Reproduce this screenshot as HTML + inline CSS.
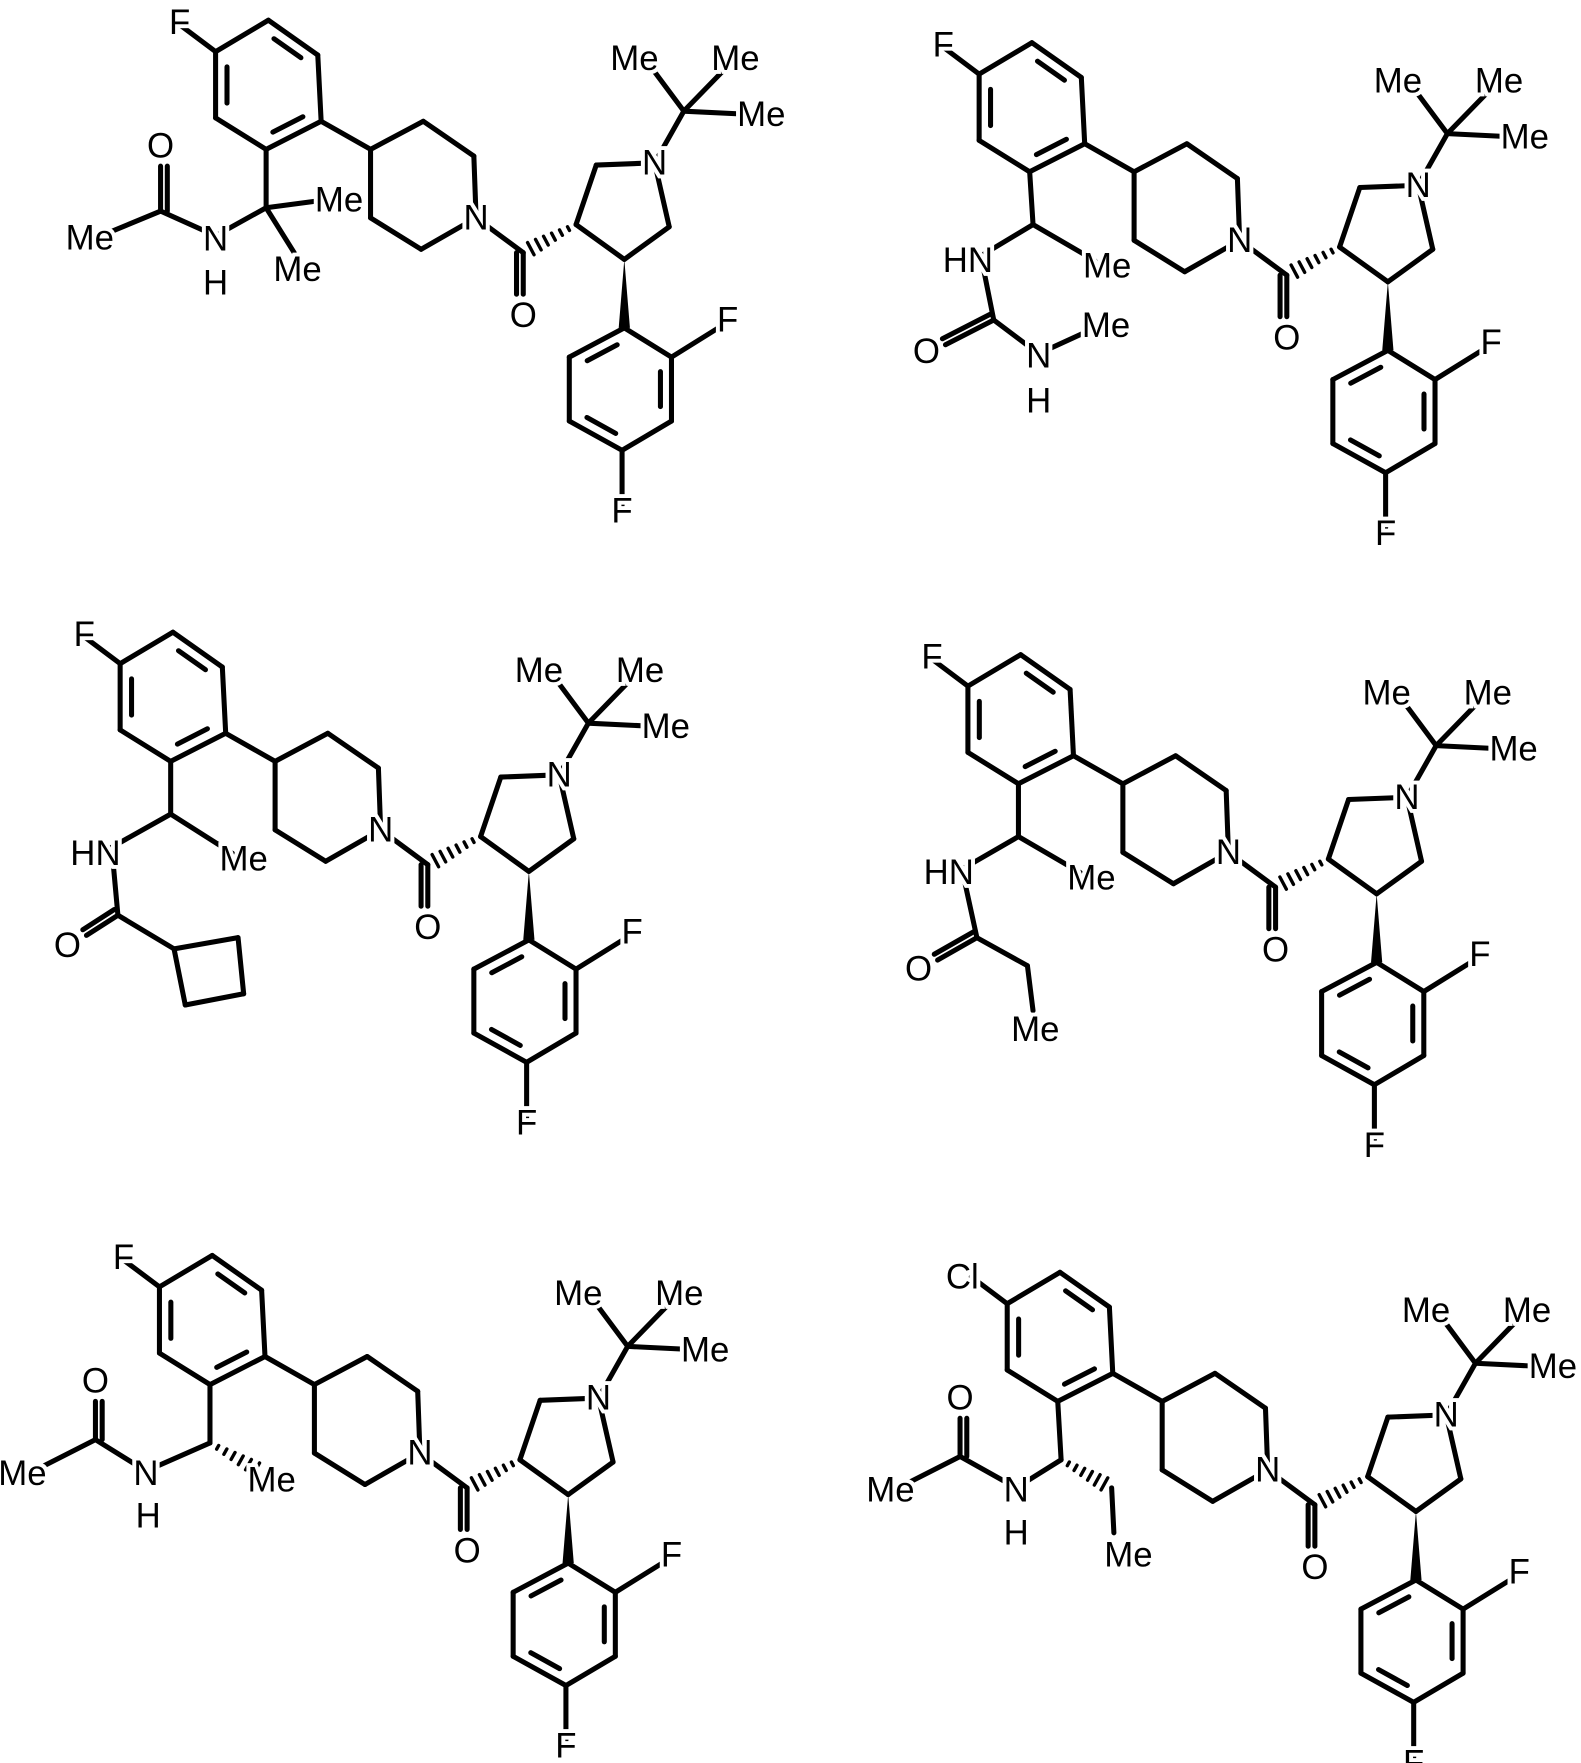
<!DOCTYPE html>
<html><head><meta charset="utf-8"><style>
html,body{margin:0;padding:0;background:#fff;}
svg{display:block}
text{font-family:"Liberation Sans",sans-serif;font-size:31px;fill:#000;stroke:#fff;stroke-width:7px;paint-order:stroke;text-anchor:middle;dominant-baseline:central}
</style></head><body>
<svg id="s" width="1581" height="1763" viewBox="0 0 1408 1570" preserveAspectRatio="none" xmlns="http://www.w3.org/2000/svg">
<g id="g" stroke="#000" stroke-width="4.5" fill="none" stroke-linecap="round"></g>
</svg>
<script>
var g=document.getElementById('g'),out=[];
var ox=0,oy=0;
function P(p){return [p[0]+ox,p[1]+oy];}
function L(a,b,w){a=P(a);b=P(b);out.push('<line x1="'+a[0]+'" y1="'+a[1]+'" x2="'+b[0]+'" y2="'+b[1]+'"'+(w?' stroke-width="'+w+'"':'')+'/>');}
function D(a,b){
 L(a,b);var dx=b[0]-a[0],dy=b[1]-a[1],l=Math.hypot(dx,dy),nx=-dy/l*6,ny=dx/l*6;L([a[0]+nx,a[1]+ny],[b[0]+nx,b[1]+ny]);}
function inner(a,b,c){
 var k=0.22;var a2=[a[0]+(c[0]-a[0])*k,a[1]+(c[1]-a[1])*k],b2=[b[0]+(c[0]-b[0])*k,b[1]+(c[1]-b[1])*k];
 var m=0.15;L([a2[0]+(b2[0]-a2[0])*m,a2[1]+(b2[1]-a2[1])*m],[b2[0]-(b2[0]-a2[0])*m,b2[1]-(b2[1]-a2[1])*m]);}
function ring(v,dbl){for(var i=0;i<v.length;i++)L(v[i],v[(i+1)%v.length]);
 if(dbl){var c=[0,0];v.forEach(function(p){c[0]+=p[0]/v.length;c[1]+=p[1]/v.length});dbl.forEach(function(i){inner(v[i],v[(i+1)%v.length],c)});}}
function hash(a,b){a=P(a);b=P(b);var dx=b[0]-a[0],dy=b[1]-a[1],l=Math.hypot(dx,dy),nx=-dy/l,ny=dx/l;
 for(var i=1;i<=6;i++){var t=i/7,w=1+6*t,x=a[0]+dx*t,y=a[1]+dy*t;out.push('<line x1="'+(x-nx*w)+'" y1="'+(y-ny*w)+'" x2="'+(x+nx*w)+'" y2="'+(y+ny*w)+'" stroke-width="3"/>');}}
function wedge(a,b){a=P(a);b=P(b);var dx=b[0]-a[0],dy=b[1]-a[1],l=Math.hypot(dx,dy),nx=-dy/l*5,ny=dx/l*5;
 out.push('<polygon fill="#000" stroke="none" points="'+a[0]+','+a[1]+' '+(b[0]+nx)+','+(b[1]+ny)+' '+(b[0]-nx)+','+(b[1]-ny)+'"/>');}
var texts=[];
function T(s,p){p=P(p);texts.push('<text x="'+p[0]+'" y="'+p[1]+'">'+s+'</text>');}

function core(hal){
 var A=[[239,18],[283,49],[286,108],[237,133],[192,105],[192,46]];
 ring(A,[0,2,4]);
 L(A[5],[160,22]);T(hal,hal=='Cl'?[152,22]:[160,20]);
 var pip=[[330,133],[377,108],[422,139],[424,194],[375,222],[330,194]];
 L(A[2],pip[0]);ring(pip);T('N',[424,194]);
 var CO=[466,225];L(pip[3],CO);D(CO,[466,262]);T('O',[466,281]);
 var P5=[[513,200],[531,147],[583,145],[596,202],[556,231]];
 hash(P5[0],CO);ring(P5);T('N',[583,145]);
 var tb=[609,99];L(P5[2],tb);L(tb,[580,60]);L(tb,[645,62]);L(tb,[670,102]);
 T('Me',[565,52]);T('Me',[655,52]);T('Me',[678,102]);
 var B=[[556,292],[598,318],[598,375],[554,401],[507,375],[507,318]];
 wedge(P5[4],B[0]);ring(B,[1,3,5]);L(B[1],[643,290]);T('F',[648,285]);L(B[3],[554,450]);T('F',[554,455]);
 return A[3];
}
function draw(){
ox=0;oy=0;var a=core('F');var C=[237,185];L(a,C);L(C,[290,178]);T('Me',[302,178]);L(C,[262,225]);T('Me',[265,240]);
L(C,[192,210]);T('N',[192,213]);T('H',[192,252]);var K=[143,188];L([192,210],K);D(K,[143,148]);T('O',[143,130]);L(K,[85,212]);T('Me',[80,212]);
ox=680;oy=20;a=core('F');C=[240,180];L(a,C);L(C,[295,212]);T('Me',[306,217]);L(C,[190,210]);T('HN',[182,212]);
K=[205,265];L([195,215],K);D(K,[162,287]);T('O',[145,293]);L(K,[245,295]);T('N',[245,297]);T('H',[245,337]);L([245,295],[295,272]);T('Me',[305,270]);
ox=-85;oy=545;a=core('F');C=[237,180];L(a,C);L(C,[292,215]);T('Me',[302,220]);L(C,[180,212]);T('HN',[170,215]);
K=[190,270];L([185,215],K);D(K,[162,288]);T('O',[145,297]);var cb=[240,300];L(K,cb);ring([cb,[297,290],[302,340],[250,350]]);
ox=670;oy=565;a=core('F');C=[237,180];L(a,C);L(C,[292,212]);T('Me',[302,217]);L(C,[185,210]);T('HN',[175,212]);
K=[200,270];L([188,215],K);D(K,[165,290]);T('O',[148,298]);L(K,[245,295]);L([245,295],[250,335]);T('Me',[252,352]);
ox=-50;oy=1100;a=core('F');C=[237,185];L(a,C);hash(C,[285,212]);T('Me',[292,218]);L(C,[180,210]);T('N',[180,212]);T('H',[182,250]);
K=[135,182];L([180,210],K);D(K,[135,148]);T('O',[135,130]);L(K,[80,210]);T('Me',[70,212]);
ox=705;oy=1115;a=core('Cl');C=[240,185];L(a,C);hash(C,[285,210]);L([285,210],[287,250]);T('Me',[300,270]);
L(C,[200,210]);T('N',[200,212]);T('H',[200,250]);K=[150,182];L([200,210],K);D(K,[150,148]);T('O',[150,130]);L(K,[95,210]);T('Me',[88,212]);
}
draw();
g.innerHTML=out.join('');
document.getElementById('s').insertAdjacentHTML('beforeend',texts.join(''));
</script>
</body></html>
